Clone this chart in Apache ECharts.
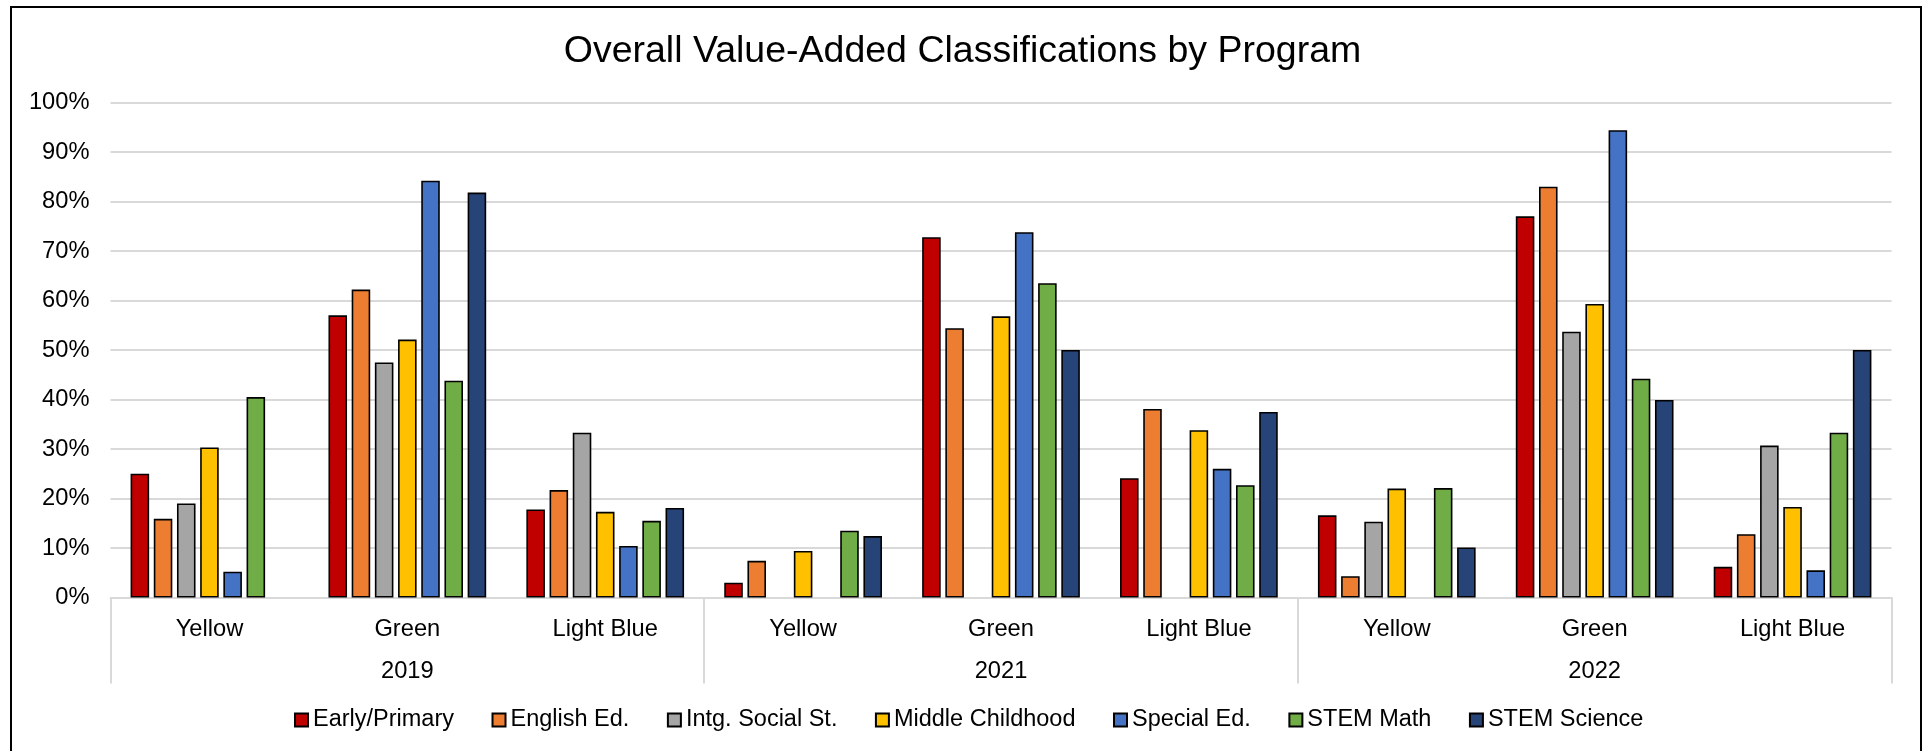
<!DOCTYPE html>
<html>
<head>
<meta charset="utf-8">
<script src="https://cdn.jsdelivr.net/npm/echarts@6/dist/echarts.min.js"></script>
<style>
  html, body { margin: 0; padding: 0; background: #fff; }
  #chart { width: 1925px; height: 751px; }
</style>
</head>
<body>
<div id="chart"></div>
<script>
// ---- data ----
const classes = ['Yellow', 'Green', 'Light Blue', 'Yellow', 'Green', 'Light Blue', 'Yellow', 'Green', 'Light Blue'];
const years = ['2019', '2021', '2022'];
const yTicks = [0, 10, 20, 30, 40, 50, 60, 70, 80, 90, 100];
const seriesNames = ['Early/Primary', 'English Ed.', 'Intg. Social St.', 'Middle Childhood', 'Special Ed.', 'STEM Math', 'STEM Science'];
const earlyPrimary    = [25.0, 57.0, 17.8,  3.0, 72.8, 24.1, 16.6, 77.0,  6.2];
const englishEd       = [15.9, 62.2, 21.7,  7.4, 54.4, 38.1,  4.3, 83.0, 12.8];
const intgSocialSt    = [19.0, 47.5, 33.3, null, null, null, 15.3, 53.7, 30.7];
const middleChildhood = [30.3, 52.1, 17.3,  9.4, 56.8, 33.8, 22.0, 59.3, 18.3];
const specialEd       = [ 5.2, 84.2, 10.4, null, 73.8, 26.0, null, 94.4,  5.5];
const stemMath        = [40.5, 43.8, 15.5, 13.5, 63.5, 22.7, 22.1, 44.2, 33.3];
const stemScience     = [null, 81.8, 18.1, 12.4, 50.0, 37.5, 10.1, 39.9, 50.0];
const seriesValues = [earlyPrimary, englishEd, intgSocialSt, middleChildhood, specialEd, stemMath, stemScience];
const colors = ['#C00000', '#ED7D31', '#A5A5A5', '#FFC000', '#4472C4', '#70AD47', '#264478'];

const FONT = '"Liberation Sans", Arial, sans-serif';
const chart = echarts.init(document.getElementById('chart'), null, { renderer: 'canvas' });

const series = seriesNames.map((name, i) => ({
  name: name,
  type: 'bar',
  xAxisIndex: 0,
  yAxisIndex: 0,
  data: seriesValues[i],
  barGap: '25%',
  barCategoryGap: '20.3%',
  itemStyle: { color: colors[i], borderColor: '#000', borderWidth: 1.6 },
  emphasis: { disabled: true },
  animation: false
}));

chart.setOption({
  animation: false,
  backgroundColor: '#fff',
  textStyle: { fontFamily: FONT },
  title: {
    text: 'Overall Value-Added Classifications by Program',
    left: 'center',
    top: 33,
    padding: 0,
    textStyle: { fontFamily: FONT, fontSize: 37.5, fontWeight: 'normal', color: '#000' }
  },
  legend: {
    data: seriesNames,
    left: 294,
    top: 708,
    itemWidth: 13,
    itemHeight: 13,
    itemGap: 37.5,
    icon: 'rect',
    padding: 0,
    textStyle: { fontFamily: FONT, fontSize: 23.5, color: '#000' }
  },
  grid: { left: 110.5, right: 33.5, top: 102.5, bottom: 153.5, containLabel: false },
  xAxis: [
    {
      type: 'category',
      data: classes,
      position: 'bottom',
      axisLine: { show: true, lineStyle: { color: '#D9D9D9', width: 2 } },
      axisTick: { show: false },
      axisLabel: { interval: 0, margin: 20, fontFamily: FONT, fontSize: 23.7, color: '#000' },
      splitLine: { show: false }
    },
    {
      type: 'category',
      data: years,
      position: 'bottom',
      axisLine: { show: false },
      axisTick: { show: true, interval: 0, length: 86, lineStyle: { color: '#D9D9D9', width: 2 } },
      axisLabel: { interval: 0, margin: 62, fontFamily: FONT, fontSize: 23.7, color: '#000' },
      splitLine: { show: false }
    }
  ],
  yAxis: {
    type: 'value',
    min: yTicks[0],
    max: yTicks[yTicks.length - 1],
    interval: 10,
    axisLine: { show: false },
    axisTick: { show: false },
    axisLabel: { margin: 21, fontFamily: FONT, fontSize: 23.7, color: '#000', formatter: '{value}%' },
    splitLine: { show: true, lineStyle: { color: '#D9D9D9', width: 2 } }
  },
  graphic: [
    {
      type: 'rect',
      shape: { x: 11, y: 7, width: 1910, height: 800 },
      style: { fill: 'none', stroke: '#000', lineWidth: 2 },
      silent: true
    }
  ],
  series: series
});
</script>
</body>
</html>
